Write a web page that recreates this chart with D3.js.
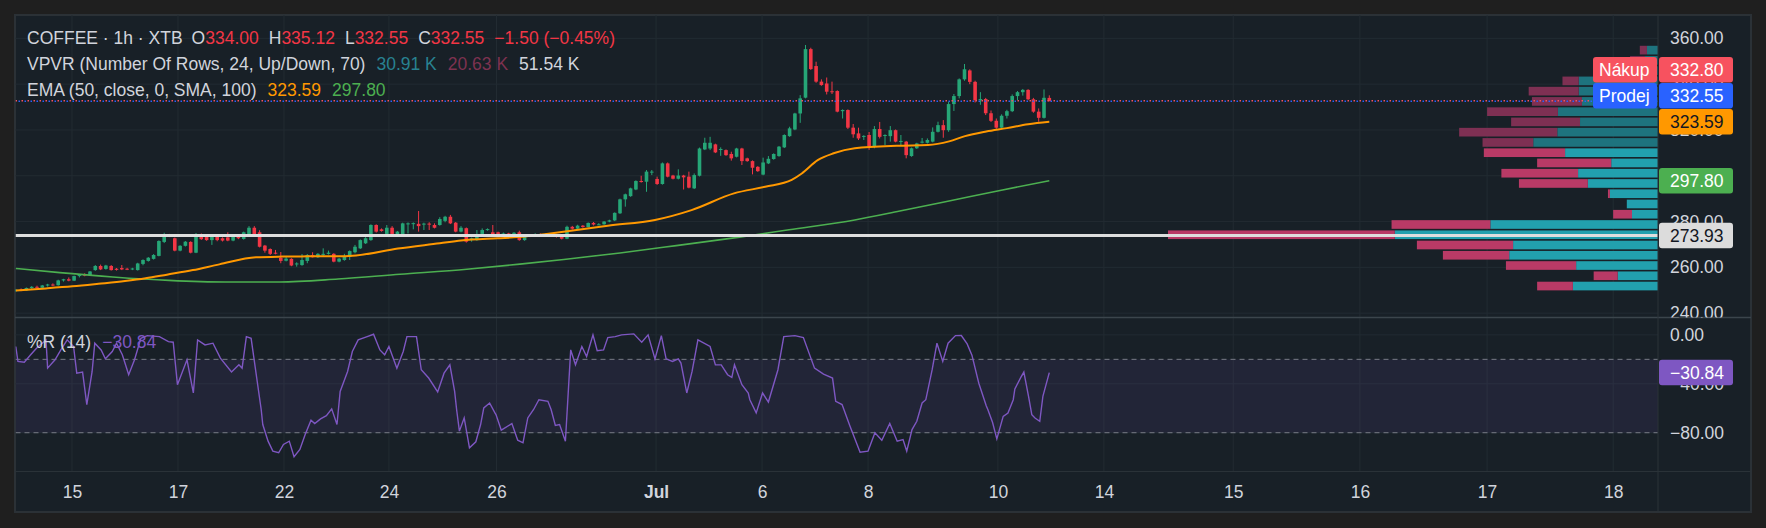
<!DOCTYPE html>
<html>
<head>
<meta charset="utf-8">
<script src="https://cdn.jsdelivr.net/npm/d3@7"></script>
<style>
  html, body { margin: 0; padding: 0; background: #1f1f1f; }
  svg { display: block; font-family: "Liberation Sans", Arial, sans-serif; }
</style>
</head>
<body>
<svg id="chart" width="1766" height="528"></svg>
<script>
// hourly candles, [open, high, low, close]
const ohlc = [
  [249.8,250.6,249.2,250.2],[250.2,250.8,249.6,249.9],[249.9,251.2,249.7,251.0],[251.0,251.8,250.6,251.5],
  [251.5,252.0,250.8,251.1],[251.1,252.3,250.9,252.1],[252.1,252.8,251.6,252.5],[252.5,253.0,251.8,252.2],
  [252.2,254.6,252.0,254.3],[254.3,255.0,253.8,254.8],[254.8,255.6,253.9,254.2],[254.2,256.4,254.0,256.2],
  [256.2,257.0,255.6,256.8],[256.8,257.4,256.1,256.6],[256.6,258.4,256.4,258.2],[258.8,261.0,258.5,260.6],
  [260.6,261.2,258.8,259.1],[259.3,261.1,259.0,260.8],[260.6,261.0,258.6,258.8],[259.4,259.7,258.6,258.9],
  [259.7,261.0,258.8,259.1],[259.4,259.8,258.8,259.1],[259.1,259.8,258.8,259.5],[258.8,262.0,258.6,261.7],
  [261.5,263.5,260.9,263.2],[262.8,264.5,262.5,264.2],[263.7,265.8,263.4,265.4],[265.0,271.8,264.8,271.5],
  [271.1,275.1,270.6,274.1],[274.1,274.6,273.2,273.6],[272.7,273.0,267.0,267.3],[267.3,269.7,267.0,269.4],
  [269.4,271.5,269.1,271.2],[271.1,271.4,266.1,266.4],[266.4,275.0,266.2,274.1],[274.4,274.8,272.0,272.3],
  [274.1,274.5,271.6,271.9],[271.9,273.8,269.8,273.4],[273.4,273.8,271.4,271.9],[272.7,273.1,271.3,271.7],
  [273.1,275.3,271.4,271.7],[271.7,274.0,271.4,273.7],[273.7,274.1,272.3,272.7],[272.4,275.6,272.1,275.3],
  [274.4,278.0,274.1,277.3],[277.3,278.0,274.0,274.4],[275.3,276.2,268.7,269.0],[269.5,269.8,266.4,267.3],
  [268.0,268.3,265.4,265.9],[266.4,267.6,265.7,266.0],[264.2,266.7,261.8,262.8],[262.9,265.0,262.6,263.8],
  [263.7,264.0,260.5,260.8],[261.3,262.2,260.3,261.7],[261.0,265.8,260.7,263.2],[262.8,265.8,261.8,265.4],
  [265.3,266.6,264.3,264.4],[264.4,266.2,264.1,265.9],[265.7,268.3,265.0,265.9],[265.9,267.3,265.6,266.4],
  [265.9,266.2,262.2,262.5],[262.5,264.1,262.2,263.8],[263.2,265.9,262.9,265.0],[264.6,267.4,263.2,267.1],
  [266.6,269.8,266.1,269.0],[268.3,272.2,268.0,271.9],[270.5,273.2,270.2,272.7],[271.9,278.8,271.6,278.5],
  [278.5,278.8,275.2,275.6],[276.6,277.0,275.6,275.9],[274.6,278.5,274.3,277.3],[277.3,278.0,274.3,274.6],
  [274.4,275.9,274.1,275.6],[274.1,279.5,273.8,279.2],[278.9,279.6,274.8,279.2],[279.0,279.6,276.6,279.3],
  [279.0,284.6,275.6,278.0],[278.9,279.5,276.3,279.1],[279.1,279.7,276.3,278.8],[278.5,279.2,277.0,277.3],
  [278.5,281.9,278.2,281.1],[280.3,282.5,279.7,282.1],[282.1,282.9,278.9,279.2],[279.5,279.8,275.3,275.6],
  [275.6,278.0,275.3,277.3],[277.1,277.4,270.8,271.2],[271.9,273.0,271.2,272.7],[271.9,276.3,271.6,274.1],
  [274.6,277.0,274.3,276.3],[276.3,277.0,276.0,276.7],[275.3,278.5,273.8,274.1],[275.3,275.6,274.3,274.6],
  [274.4,275.2,274.0,274.8],[274.8,275.1,274.1,274.4],[274.6,275.4,273.9,275.1],[275.3,276.0,271.6,271.9],
  [271.9,274.2,271.6,273.9],[273.9,274.3,273.2,273.8],[273.8,274.9,273.5,274.4],[274.4,274.8,273.8,274.2],
  [274.2,274.9,273.9,274.3],[274.3,274.5,273.5,273.8],[273.8,274.1,273.0,273.4],[273.4,273.7,272.2,272.5],
  [272.5,278.2,272.3,277.7],[277.7,278.1,276.5,276.9],[276.9,278.6,276.6,278.2],[278.2,278.5,277.3,277.6],
  [277.6,279.6,277.4,279.4],[279.4,279.8,278.3,278.7],[278.7,279.3,278.4,278.8],[278.8,280.2,278.6,280.0],
  [280.0,280.8,279.7,280.5],[280.5,284.0,280.2,283.8],[283.6,290.0,283.3,289.7],[289.7,292.2,286.5,291.9],
  [291.1,294.8,290.8,294.5],[294.0,298.0,293.7,297.7],[297.7,300.0,297.0,297.4],[297.4,302.5,293.0,301.8],
  [301.5,302.5,300.3,301.8],[298.6,299.6,296.0,296.4],[296.4,305.8,296.1,305.4],[305.4,305.8,299.3,299.6],
  [300.1,300.4,298.4,298.7],[298.7,302.8,298.4,300.1],[300.1,300.4,294.0,299.3],[299.6,301.8,294.5,294.8],
  [294.5,301.0,294.2,300.3],[300.0,312.3,299.7,311.9],[311.5,316.6,311.2,314.4],[311.9,317.0,311.2,314.4],
  [313.7,314.0,309.9,310.2],[311.4,312.4,308.7,311.7],[311.2,311.5,308.7,309.0],[309.5,310.5,306.6,307.6],
  [308.3,312.2,308.0,311.9],[311.9,312.2,304.7,306.4],[307.6,307.9,306.1,306.4],[306.4,306.7,300.6,303.5],
  [303.9,304.2,301.7,302.0],[300.5,307.9,300.2,305.8],[305.4,308.6,305.1,307.4],[307.3,309.8,307.0,309.5],
  [308.6,313.0,308.3,312.7],[312.4,318.1,312.1,317.8],[317.3,321.4,317.0,320.7],[320.2,327.5,319.9,327.2],
  [327.2,335.2,323.1,333.8],[334.1,357.1,333.8,355.3],[355.3,355.9,346.2,346.6],[347.9,349.8,340.6,341.1],
  [341.1,342.1,339.3,339.6],[340.3,342.9,335.5,336.7],[336.9,341.1,335.7,336.5],[337.0,337.3,327.7,328.0],
  [328.2,329.0,325.0,328.7],[328.7,329.0,320.4,321.0],[321.0,322.6,316.6,318.1],[318.5,321.0,315.6,316.3],
  [317.2,317.7,315.6,317.4],[317.8,319.1,311.3,312.7],[312.7,321.7,312.0,320.4],[320.4,323.5,316.3,317.0],
  [317.6,318.1,313.4,317.8],[317.3,321.7,314.9,319.9],[319.9,320.2,314.6,314.9],[315.0,317.8,313.4,315.2],
  [314.9,315.2,307.6,309.0],[308.6,312.3,308.3,312.0],[312.0,314.4,311.7,314.1],[314.6,316.5,314.1,314.9],
  [314.4,316.3,314.1,315.6],[314.9,321.1,314.6,319.2],[319.2,323.6,318.9,322.1],[322.1,324.3,316.6,319.9],
  [319.9,332.3,319.2,331.3],[331.3,335.7,328.3,334.8],[334.8,342.5,333.8,342.1],[342.1,348.8,341.5,346.5],
  [346.0,346.5,340.0,341.0],[341.0,341.5,332.0,333.0],[333.0,336.5,331.0,333.5],[333.5,334.0,326.5,327.3],
  [327.3,328.5,323.5,324.0],[324.0,325.0,320.5,321.0],[321.0,326.8,320.8,326.2],[326.2,328.8,325.0,328.2],
  [328.2,335.5,327.8,334.8],[334.8,337.0,333.0,336.5],[336.5,337.9,335.0,337.5],[337.5,337.8,333.0,333.4],
  [333.4,334.0,327.5,328.0],[328.0,329.4,323.6,325.3],[325.3,337.7,325.0,334.05],[334.00,335.12,332.55,332.55]
];

// EMA 50 and its SMA 100, read as [bar, value]
const emaLine = [
  [0,249.9],[5.7,250.8],[10.7,251.7],[15.6,252.8],[20.6,254.0],[24.5,255.2],[28.5,256.8],[33.4,258.8],
  [38.4,261.3],[45.3,264.4],[50.3,264.7],[55.2,264.8],[60.2,264.8],[64.2,265.2],[72.1,268.2],[80,270.5],
  [84,271.7],[90.9,272.7],[94.8,273.2],[99.8,274.5],[105.8,276.3],[111.7,278.2],[120.6,280.7],[127.5,285],
  [135.5,292.3],[141.4,295.2],[146.4,298.2],[148.3,301],[151.3,306.8],[154.3,309.8],[158.3,312],[166.2,313.1],
  [172.1,313.4],[176.1,315],[179.1,317.3],[183.1,319.3],[187,320.8],[191,322.5],[195,323.59]
];
const smaLine = [
  [0,259.5],[8.3,257.7],[18.3,255.8],[28.9,254.3],[39.5,253.6],[49.8,253.6],[60.8,254.9],[72.5,257],
  [85.1,259.2],[95.1,261.4],[103.4,263.4],[114,266.3],[124.6,269.5],[136.6,273.2],[145.9,276.4],[158.3,280.7],
  [166.8,284.6],[176.3,289.1],[185.7,293.6],[195,297.8]
];

// Williams %R (14), read as [bar, value]
const williamsR = [
  [0,-9.5],[0.4,-21.7],[1.6,-22.3],[2.8,-16.3],[3.9,-10.9],[5.7,-4.1],[6.0,-27.2],[7.4,-20.4],[8.5,-12.3],
  [9.7,-4.1],[10.9,-9.5],[11.5,-31.3],[12.6,-30.4],[13.4,-57],[14.4,-29.9],[14.9,-6.8],[16.1,-12.3],
  [16.9,-19.6],[18.2,-13.6],[19.0,-6.8],[20.1,-16.3],[21.3,-32.6],[22.4,-20.4],[23.6,-2.8],[24.8,-0.6],
  [27.1,-1.4],[28.8,-5.5],[29.7,-6],[30.5,-40.7],[32.3,-20.4],[33.5,-47.5],[34.3,-4.1],[35.7,-8.2],
  [37.2,-6.8],[38.6,-19],[40.7,-30.4],[42.1,-24.5],[42.7,-27.2],[43.5,-1.4],[44.4,-2.8],[46.3,-61],
  [46.6,-73.3],[47.6,-86.9],[48.5,-95],[49.6,-96.4],[50.5,-89.6],[51.6,-86.9],[52.5,-99.6],[53.6,-93.7],
  [54.6,-81.5],[55.7,-69.8],[56.4,-72.5],[57.5,-68.7],[58.6,-66],[59.6,-60.5],[60.6,-73.3],[61.2,-46.2],
  [62.6,-29.9],[63.5,-13.6],[64.6,-4.1],[66.3,-1.4],[67.5,0.5],[68.7,-12.3],[69.6,-16.3],[70.4,-9.5],
  [71.9,-27.2],[73.1,-13.6],[73.8,-1.4],[75.6,-1.4],[76.5,-28.5],[77.9,-35.3],[79.6,-46.7],[80.8,-31.3],
  [81.9,-24.5],[82.8,-46.2],[83.2,-62],[83.7,-78.7],[84.6,-67.9],[85.6,-92.3],[86.8,-87.4],[87.7,-73.3],
  [88.3,-59.7],[89.4,-55.7],[90.4,-63.8],[90.6,-65.2],[91.6,-77.9],[93.6,-72.5],[94.7,-86.1],[95.7,-88.2],
  [96.6,-67.9],[97.7,-61],[98.7,-53],[100.4,-54.3],[101.0,-61],[101.8,-74.1],[102.6,-73.3],[103.7,-86.9],
  [104.7,-12.3],[105.6,-24.5],[106.8,-9.5],[107.7,-17.7],[108.9,0],[109.7,-13],[110.9,-12.3],[111.7,-2.2],
  [113.1,-1.4],[114.3,0],[116.6,0.8],[118.1,-6],[119.3,0],[120.6,-19.6],[121.8,-0.6],[122.7,-19.6],
  [123.9,-21.7],[125.0,-19.6],[125.5,-23.1],[126.6,-47.5],[127.6,-29.9],[128.7,-4.1],[131.0,-9.5],
  [132.0,-24.5],[133.1,-24.5],[134.3,-32.6],[135.1,-34.8],[135.6,-24.5],[137.0,-40.7],[138.2,-47.5],
  [138.5,-53],[139.7,-63.8],[140.9,-47.5],[142.0,-54.9],[143.8,-28.5],[144.9,-1.4],[147.0,-0.6],
  [148.6,-2.2],[150.7,-27.2],[152.4,-32.1],[154.1,-35.3],[154.7,-54.3],[155.9,-57],[157.4,-74.7],
  [159.3,-95.9],[160.8,-95],[162.1,-80.1],[163.4,-86.1],[164.9,-72.5],[166.3,-86.9],[167.4,-85.6],
  [168.1,-95],[169.1,-77.4],[170.0,-70.6],[171.0,-55.7],[171.7,-53],[172.9,-28.5],[173.8,-6.8],
  [174.9,-21.7],[175.9,-6.8],[177.3,-0.6],[178.4,-0.5],[179.5,-7.4],[180.4,-16.6],[181.7,-39.5],
  [183.1,-57.9],[183.4,-61.1],[184.3,-71.7],[185.1,-85],[186.3,-66.6],[187.2,-63.9],[188.2,-53],
  [188.5,-44.2],[189.6,-35],[190.2,-30.4],[191.1,-50.6],[191.7,-65.3],[192.3,-68],[193.2,-70.6],
  [193.8,-50],[195,-30.84]
];

// volume profile (K), rows from lowest price up
const vpvrDown = [0.55,0.37,1.08,1.02,1.48,3.49,1.52,0.29,0.00,0.03,1.06,1.18,1.14,1.25,0.78,1.51,1.06,1.09,0.77,0.77,0.25,0.31,0.23,0.11];
const vpvrUp   = [1.31,0.62,1.26,2.29,2.23,4.05,2.58,0.40,0.48,0.74,1.08,1.23,0.72,1.43,1.92,1.55,1.20,1.54,1.17,1.22,1.22,0.31,0.20,0.17];
const vpvrLow = 249.6, vpvrHigh = 357.1, valueAreaRows = 14;
const vpvrTotals = ["30.91 K", "20.63 K", "51.54 K"];
const pocPrice = 273.93;
const askPrice = 332.80, bidPrice = 332.55;

const timeTickBars = [10.6, 30.6, 50.6, 70.4, 90.7, 120.8, 140.8, 160.8, 185.3, 205.3, 229.7, 253.6, 277.6, 301.4];
const timeTickLabels = ["15", "17", "22", "24", "26", "Jul", "6", "8", "10", "14", "15", "16", "17", "18"];
const priceTicks = [240, 260, 280, 300, 320, 340, 360];
const wrTicks = [0, -40, -80];
const wrLevels = [-20, -80];

// ---- layout ----
const W = 1766, H = 528;
const left = 15.5, plotRight = 1658, frameRight = 1751;
const priceTop = 15, priceBottom = 317.5, wrTop = 317.5, wrBottom = 471.5, frameBottom = 512;
const txt = "#d1d4dc", upCol = "#26a677", downCol = "#f23645";
const fs = 17.5;

const svg = d3.select("#chart");
svg.append("rect").attr("width", W).attr("height", H).attr("fill", "#1f1f1f");
svg.append("rect").attr("x", 15).attr("y", 15).attr("width", frameRight - 15).attr("height", frameBottom - 15)
  .attr("fill", "#182027").attr("stroke", "#2b3136").attr("stroke-width", 2);

const x = d3.scaleLinear().domain([0, 309]).range([15.8, 15.8 + 309 * 5.3]);
const y = d3.scaleLinear().domain([238.1, 370.2]).range([priceBottom, priceTop]);
const yR = d3.scaleLinear().domain([-111.7, 14.2]).range([wrBottom, wrTop]);

const defs = svg.append("defs");
function clip(id, x0, y0, w, h) {
  defs.append("clipPath").attr("id", id).append("rect").attr("x", x0).attr("y", y0).attr("width", w).attr("height", h);
  return "url(#" + id + ")";
}
const priceClip = clip("pc", left, priceTop, plotRight - left, priceBottom - priceTop);
const wrClip = clip("wc", left, wrTop, plotRight - left, wrBottom - wrTop);
const priceAxisClip = clip("pac", plotRight, priceTop, frameRight - plotRight, priceBottom - priceTop);
const wrAxisClip = clip("wac", plotRight, wrTop, frameRight - plotRight, wrBottom - wrTop);

// grid
const grid = svg.append("g").attr("stroke", "#222b32").attr("stroke-width", 1);
grid.selectAll(".gv").data(timeTickBars).join("line")
  .attr("x1", d => x(d)).attr("x2", d => x(d)).attr("y1", priceTop).attr("y2", wrBottom);
grid.selectAll(".gp").data(priceTicks).join("line")
  .attr("x1", left).attr("x2", plotRight).attr("y1", d => y(d)).attr("y2", d => y(d));
grid.selectAll(".gw").data(wrTicks).join("line")
  .attr("x1", left).attr("x2", plotRight).attr("y1", d => yR(d)).attr("y2", d => yR(d));

// %R band
const wrG = svg.append("g").attr("clip-path", wrClip);
wrG.append("rect").attr("x", left).attr("width", plotRight - left)
  .attr("y", yR(wrLevels[0])).attr("height", yR(wrLevels[1]) - yR(wrLevels[0]))
  .attr("fill", "#7e57c2").attr("fill-opacity", 0.1);
wrG.selectAll(".lvl").data(wrLevels).join("line")
  .attr("x1", left).attr("x2", plotRight).attr("y1", d => yR(d)).attr("y2", d => yR(d))
  .attr("stroke", "#787b86").attr("stroke-dasharray", "5,4");

// volume profile
const priceG = svg.append("g").attr("clip-path", priceClip);
const rowStep = (vpvrHigh - vpvrLow) / vpvrUp.length;
const vx = d3.scaleLinear().domain([0, d3.max(vpvrUp, (u, i) => u + vpvrDown[i])]).range([0, 490]);
const rows = vpvrUp.map((u, i) => ({ up: u, down: vpvrDown[i], lo: vpvrLow + i * rowStep, hi: vpvrLow + (i + 1) * rowStep, va: i < valueAreaRows }));
const vpG = priceG.append("g");
vpG.selectAll(".vu").data(rows).join("rect")
  .attr("x", d => plotRight - vx(d.up)).attr("width", d => vx(d.up))
  .attr("y", d => y(d.hi) + 0.8).attr("height", d => y(d.lo) - y(d.hi) - 1.6)
  .attr("fill", d => d.va ? "#22a0ae" : "#1e737e");
vpG.selectAll(".vd").data(rows).join("rect")
  .attr("x", d => plotRight - vx(d.up + d.down)).attr("width", d => vx(d.down))
  .attr("y", d => y(d.hi) + 0.8).attr("height", d => y(d.lo) - y(d.hi) - 1.6)
  .attr("fill", d => d.va ? "#b93a66" : "#7e3053");

// candles
const cg = priceG.append("g");
cg.selectAll(".wick").data(ohlc).join("line")
  .attr("x1", (d, i) => x(i)).attr("x2", (d, i) => x(i))
  .attr("y1", d => y(d[1])).attr("y2", d => y(d[2]))
  .attr("stroke", d => d[3] >= d[0] ? upCol : downCol).attr("stroke-width", 1);
cg.selectAll(".body").data(ohlc).join("rect")
  .attr("x", (d, i) => x(i) - 1.8).attr("width", 3.6)
  .attr("y", d => y(Math.max(d[0], d[3])))
  .attr("height", d => Math.max(1, Math.abs(y(d[0]) - y(d[3]))))
  .attr("fill", d => d[3] >= d[0] ? upCol : downCol);

// moving averages
const pline = d3.line().x(d => x(d[0])).y(d => y(d[1])).curve(d3.curveMonotoneX);
priceG.append("path").datum(smaLine).attr("d", pline).attr("fill", "none").attr("stroke", "#4caf50").attr("stroke-width", 1.6);
priceG.append("path").datum(emaLine).attr("d", pline).attr("fill", "none").attr("stroke", "#ff9800").attr("stroke-width", 2);

// point of control and bid/ask lines
priceG.append("line").attr("x1", left).attr("x2", plotRight).attr("y1", y(pocPrice)).attr("y2", y(pocPrice))
  .attr("stroke", "#dedede").attr("stroke-width", 3);
priceG.append("line").attr("x1", left).attr("x2", plotRight).attr("y1", y(askPrice)).attr("y2", y(askPrice))
  .attr("stroke", "#f7525f").attr("stroke-width", 1.5).attr("stroke-dasharray", "1.5,4.5");
priceG.append("line").attr("x1", left).attr("x2", plotRight).attr("y1", y(bidPrice)).attr("y2", y(bidPrice))
  .attr("stroke", "#2962ff").attr("stroke-width", 1.5).attr("stroke-dasharray", "1.5,4.5").attr("stroke-dashoffset", 3);

// %R line
wrG.append("path").datum(williamsR)
  .attr("d", d3.line().x(d => x(d[0])).y(d => yR(d[1])))
  .attr("fill", "none").attr("stroke", "#7e57c2").attr("stroke-width", 1.4);

// separators
svg.append("line").attr("x1", 15).attr("x2", frameRight).attr("y1", priceBottom).attr("y2", priceBottom)
  .attr("stroke", "#3b454c").attr("stroke-width", 1.5);
svg.append("line").attr("x1", 15).attr("x2", frameRight).attr("y1", wrBottom).attr("y2", wrBottom)
  .attr("stroke", "#2a3238").attr("stroke-width", 1);
svg.append("line").attr("x1", plotRight).attr("x2", plotRight).attr("y1", 15).attr("y2", frameBottom)
  .attr("stroke", "#2a3238").attr("stroke-width", 1);

// axes
function styleAxis(g) {
  g.select(".domain").remove();
  g.selectAll(".tick line").remove();
  g.selectAll("text").attr("fill", txt).attr("font-size", fs).attr("font-family", "Liberation Sans, Arial, sans-serif");
}
const fmt = d3.format(".2f");
svg.append("g").attr("clip-path", priceAxisClip).append("g").attr("transform", `translate(${plotRight},0)`)
  .call(d3.axisRight(y).tickValues(priceTicks).tickFormat(fmt).tickSize(0).tickPadding(12)).call(styleAxis);
svg.append("g").attr("clip-path", wrAxisClip).append("g").attr("transform", `translate(${plotRight},0)`)
  .call(d3.axisRight(yR).tickValues(wrTicks).tickFormat(fmt).tickSize(0).tickPadding(12)).call(styleAxis);
const tAxis = svg.append("g").attr("transform", `translate(0,${wrBottom})`)
  .call(d3.axisBottom(x).tickValues(timeTickBars).tickFormat((d, i) => timeTickLabels[i]).tickSize(0).tickPadding(14))
  .call(styleAxis);
tAxis.selectAll("text").attr("font-weight", (d, i) => timeTickLabels[i] === "Jul" ? "bold" : null);

// price scale labels
const last = ohlc[ohlc.length - 1], prev = ohlc[ohlc.length - 2];
const lastEma = emaLine[emaLine.length - 1][1], lastSma = smaLine[smaLine.length - 1][1];
const lastWr = williamsR[williamsR.length - 1][1];
const boxH = 25.5;
const stacked = [
  { price: lastEma, bg: "#ff9800", fg: "#131722" },
  { price: bidPrice, bg: "#2962ff", fg: "#ffffff", name: "Prodej" },
  { price: askPrice, bg: "#f7525f", fg: "#ffffff", name: "Nákup" }
];
let prevY = Infinity;
stacked.forEach(l => { l.cy = Math.min(y(l.price), prevY - 26); prevY = l.cy; });
const labels = stacked.concat([
  { price: lastSma, bg: "#4caf50", fg: "#ffffff", cy: y(lastSma) },
  { price: pocPrice, bg: "#dcdcdc", fg: "#131722", cy: y(pocPrice) },
  { price: lastWr, bg: "#7e57c2", fg: "#ffffff", cy: yR(lastWr) }
]);
const lg = svg.append("g").attr("font-size", fs);
labels.forEach(l => {
  lg.append("rect").attr("x", plotRight + 1).attr("y", l.cy - boxH / 2).attr("width", 74).attr("height", boxH)
    .attr("rx", 3).attr("fill", l.bg);
  lg.append("text").attr("x", plotRight + 12).attr("y", l.cy).attr("dy", "0.36em").attr("fill", l.fg).text(fmt(l.price));
  if (l.name) {
    lg.append("rect").attr("x", plotRight - 65).attr("y", l.cy - boxH / 2).attr("width", 64).attr("height", boxH)
      .attr("rx", 3).attr("fill", l.bg);
    lg.append("text").attr("x", plotRight - 59).attr("y", l.cy).attr("dy", "0.36em").attr("fill", l.fg).text(l.name);
  }
});

// legends
function legend(yb, parts) {
  const t = svg.append("text").attr("x", 27).attr("y", yb).attr("font-size", fs);
  parts.forEach(p => t.append("tspan").attr("dx", p[2] || 0).attr("fill", p[1]).text(p[0]));
}
const chg = last[3] - prev[3];
legend(44, [
  ["COFFEE · 1h · XTB", txt],
  ["O", txt, 9], [fmt(last[0]), downCol],
  ["H", txt, 10], [fmt(last[1]), downCol],
  ["L", txt, 10], [fmt(last[2]), downCol],
  ["C", txt, 10], [fmt(last[3]), downCol],
  [fmt(chg) + " (" + fmt(chg / prev[3] * 100) + "%)", downCol, 10]
]);
legend(69.5, [
  ["VPVR (Number Of Rows, 24, Up/Down, 70)", txt],
  [vpvrTotals[0], "#288291", 11], [vpvrTotals[1], "#7d3250", 11], [vpvrTotals[2], txt, 11]
]);
legend(95.5, [
  ["EMA (50, close, 0, SMA, 100)", txt],
  [fmt(lastEma), "#ff9800", 11], [fmt(lastSma), "#4caf50", 11]
]);
legend(348, [["%R (14)", txt], [fmt(lastWr), "#7e57c2", 11]]);
</script>
</body>
</html>
